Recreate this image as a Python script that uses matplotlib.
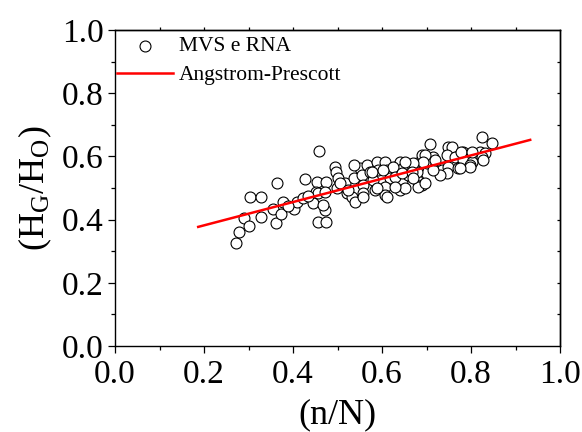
import matplotlib
matplotlib.use("Agg")
import matplotlib.pyplot as plt
import numpy as np

plt.rcParams['font.family'] = ['Liberation Serif', 'DejaVu Serif']
plt.rcParams['mathtext.fontset'] = 'custom'
plt.rcParams['mathtext.rm'] = 'Liberation Serif'
plt.rcParams['mathtext.it'] = 'Liberation Serif:italic'

# MVS e RNA estimates (n/N, HG/HO)
nN = [0.273, 0.279, 0.291, 0.302, 0.303, 0.327, 0.328, 0.361, 0.356, 0.365,
      0.378, 0.374, 0.402, 0.408, 0.422, 0.426, 0.453, 0.459, 0.457, 0.444,
      0.451, 0.472, 0.457, 0.434, 0.389, 0.494, 0.497, 0.474, 0.502, 0.472,
      0.468, 0.475, 0.498, 0.517, 0.521, 0.536, 0.532, 0.539, 0.551, 0.554,
      0.558, 0.558, 0.566, 0.573, 0.588, 0.592, 0.580, 0.584, 0.607, 0.611,
      0.618, 0.607, 0.607, 0.629, 0.640, 0.648, 0.637, 0.644, 0.640, 0.652,
      0.659, 0.667, 0.678, 0.674, 0.682, 0.536, 0.506, 0.524, 0.558, 0.611,
      0.588, 0.577, 0.708, 0.749, 0.757, 0.824, 0.847, 0.783, 0.689, 0.715,
      0.745, 0.764, 0.783, 0.802, 0.820, 0.831, 0.824, 0.828, 0.682, 0.700,
      0.719, 0.734, 0.749, 0.771, 0.798, 0.745, 0.730, 0.678, 0.689, 0.682,
      0.697, 0.678, 0.778, 0.802, 0.798, 0.775, 0.715, 0.719, 0.697, 0.693,
      0.670, 0.652, 0.625, 0.603, 0.629, 0.644, 0.667, 0.629, 0.670]
HGHO = [0.325, 0.362, 0.405, 0.380, 0.472, 0.472, 0.407, 0.388, 0.434, 0.515,
        0.456, 0.418, 0.432, 0.457, 0.467, 0.528, 0.519, 0.618, 0.392, 0.452,
        0.488, 0.430, 0.483, 0.475, 0.443, 0.567, 0.552, 0.520, 0.531, 0.488,
        0.446, 0.393, 0.499, 0.515, 0.483, 0.531, 0.472, 0.457, 0.562, 0.541,
        0.509, 0.483, 0.573, 0.552, 0.583, 0.557, 0.525, 0.494, 0.583, 0.557,
        0.531, 0.504, 0.478, 0.567, 0.583, 0.562, 0.541, 0.515, 0.494, 0.499,
        0.541, 0.573, 0.578, 0.541, 0.525, 0.573, 0.515, 0.494, 0.472, 0.472,
        0.499, 0.552, 0.638, 0.630, 0.631, 0.661, 0.641, 0.615, 0.604, 0.599,
        0.604, 0.599, 0.589, 0.583, 0.615, 0.610, 0.599, 0.589, 0.567, 0.578,
        0.567, 0.557, 0.567, 0.562, 0.573, 0.547, 0.541, 0.525, 0.509, 0.504,
        0.515, 0.552, 0.615, 0.615, 0.567, 0.562, 0.557, 0.589, 0.604, 0.583,
        0.578, 0.583, 0.567, 0.557, 0.536, 0.547, 0.552, 0.502, 0.531]

# Angstrom-Prescott fit: HG/HO = a + b (n/N)
ap_a = 0.308
ap_b = 0.369
ap_x = [0.187, 0.933]

fig = plt.figure(figsize=(5.82, 4.32), dpi=100)
ax = fig.add_axes([0.1976, 0.199, 0.7646, 0.7316])

ax.scatter(nN, HGHO, s=62, facecolors='white', edgecolors='black',
           linewidths=0.8, zorder=2, label='MVS e RNA')
xx = np.array(ap_x)
ax.plot(xx, ap_a + ap_b * xx, color='#ff0000', lw=1.8, zorder=3,
        label='Angstrom-Prescott')

ax.set_xlim(0, 1.0)
ax.set_ylim(0, 1.0)
ticks = [0.0, 0.2, 0.4, 0.6, 0.8, 1.0]
ax.set_xticks(ticks)
ax.set_yticks(ticks)
ax.set_xticklabels(['%.1f' % t for t in ticks])
ax.set_yticklabels(['%.1f' % t for t in ticks])
ax.set_xticks([0.1, 0.3, 0.5, 0.7, 0.9], minor=True)
ax.set_yticks([0.1, 0.3, 0.5, 0.7, 0.9], minor=True)
ax.tick_params(axis='both', which='major', direction='out', length=5, width=0.9,
               labelsize=24, pad=3, colors='black')
ax.tick_params(axis='x', which='major', pad=5)
ax.tick_params(axis='both', which='minor', direction='out', length=3, width=0.9)

# secondary ticks on top and right
top = ax.secondary_xaxis('top')
top.set_xticks([0.1 * i for i in range(1, 10)])
top.tick_params(direction='out', length=2, width=0.9, labeltop=False)
right = ax.secondary_yaxis('right')
right.set_yticks([0.1 * i for i in range(1, 10)])
right.tick_params(direction='in', length=2, width=0.9, labelright=False)

for sp in ax.spines.values():
    sp.set_linewidth(1.0)
for sp in top.spines.values():
    sp.set_linewidth(1.0)
for sp in right.spines.values():
    sp.set_linewidth(1.0)

ax.set_xlabel('(n/N)', fontsize=26, labelpad=6)
ax.set_ylabel(r'$(\mathrm{H_G/H_O})$', fontsize=26, labelpad=6)

leg = ax.legend(loc='upper left', frameon=False, fontsize=15.5,
                bbox_to_anchor=(0.005, 0.98), handlelength=2.6,
                handletextpad=0.25, labelspacing=0.4, borderaxespad=0,
                borderpad=0)

fig.savefig('out.png', dpi=100)
